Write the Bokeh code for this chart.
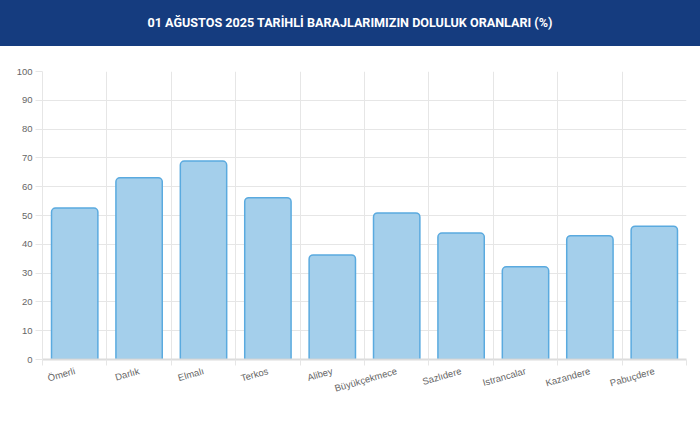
import numpy as np
from bokeh.plotting import figure
from bokeh.models import ColumnDataSource, Range1d, FixedTicker, Div
from bokeh.layouts import column
from bokeh.embed import file_html
from bokeh.resources import INLINE

# Data
title = "01 AĞUSTOS 2025 TARİHLİ BARAJLARIMIZIN DOLULUK ORANLARI (%)"
dams = ["Ömerli", "Darlık", "Elmalı", "Terkos", "Alibey", "Büyükçekmece",
        "Sazlıdere", "Istrancalar", "Kazandere", "Pabuçdere"]
fill_pct = [52.6, 63.1, 68.9, 56.2, 36.3, 50.9, 43.9, 32.2, 43.0, 46.3]
y_ticks = [0, 10, 20, 30, 40, 50, 60, 70, 80, 90, 100]

grid_color = "#e6e6e6"
label_color = "#666666"
label_font = "Liberation Sans"

# bar centres sit in the middle of each category slot
centres = np.arange(len(dams)) + 0.5
source = ColumnDataSource(data={"x": centres, "top": fill_pct, "name": dams})

header = Div(text=title, width=700, height=46, margin=0,
             styles={"background-color": "#153c7f", "color": "white",
                     "font-family": "Roboto", "font-weight": "bold",
                     "font-size": "12.6px", "text-align": "center",
                     "line-height": "46px"})

p = figure(width=700, height=383, x_range=Range1d(0, len(dams)), y_range=Range1d(0, 100),
           output_backend="svg", toolbar_location=None,
           min_border_left=42, min_border_right=14, min_border_top=25, min_border_bottom=70)

p.vbar(x="x", top="top", width=0.72, source=source,
       fill_color="#a4cfeb", line_color="#5aaadf", line_width=1.5,
       border_radius=(4, 4, 0, 0))

p.outline_line_color = None

# x axis: labels at centres, small ticks at slot boundaries
p.xaxis.ticker = FixedTicker(ticks=list(centres), minor_ticks=list(range(len(dams) + 1)))
p.xaxis.major_label_overrides = {float(c): d for c, d in zip(centres, dams)}
p.xaxis.major_tick_line_color = None
p.xaxis.major_tick_out = 0
p.xaxis.minor_tick_out = 6
p.xaxis.minor_tick_in = 0
p.xaxis.minor_tick_line_color = grid_color
p.xaxis.axis_line_color = "#dcdcdc"
p.xaxis.axis_line_width = 2
p.xaxis.major_label_orientation = 0.28
p.xaxis.major_label_standoff = 5

p.yaxis.ticker = FixedTicker(ticks=y_ticks)
p.yaxis.minor_tick_line_color = None
p.yaxis.major_tick_out = 7
p.yaxis.major_tick_in = 0
p.yaxis.major_tick_line_color = grid_color
p.yaxis.axis_line_color = grid_color
p.yaxis.major_label_standoff = 3

for ax in (p.xaxis, p.yaxis):
    ax.major_label_text_font = label_font
    ax.major_label_text_font_size = "9.5px"
    ax.major_label_text_color = label_color

p.xgrid.ticker = FixedTicker(ticks=list(range(len(dams) + 1)))
p.xgrid.grid_line_color = grid_color
p.ygrid.grid_line_color = grid_color

layout = column(header, p, spacing=0)

open("out.html", "w").write(file_html(layout, INLINE))
